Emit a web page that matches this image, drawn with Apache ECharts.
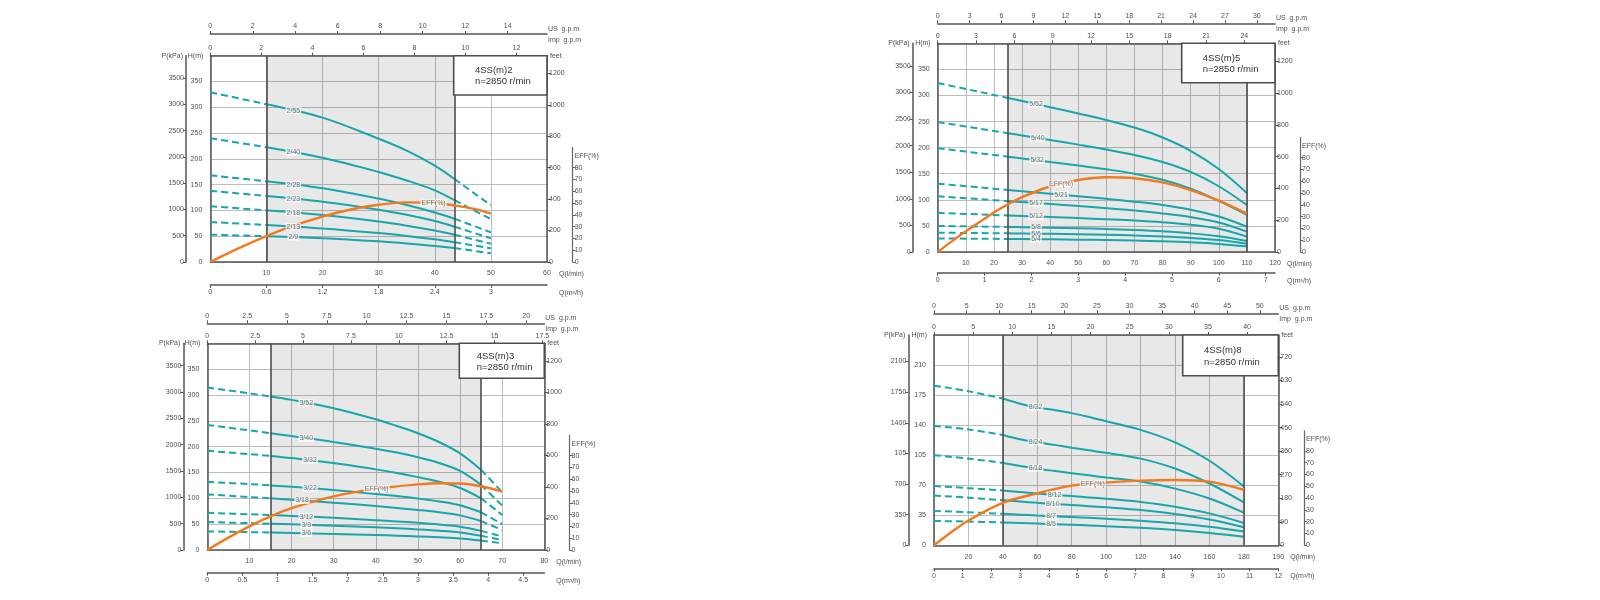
<!DOCTYPE html>
<html><head><meta charset="utf-8">
<script src="https://cdn.jsdelivr.net/npm/echarts@6/dist/echarts.min.js"></script>
<style>html,body{margin:0;padding:0;background:#fff}#c{width:1600px;height:600px}</style>
</head><body><div id="c"></div>
<script>
// ---------------- DATA ----------------
// Panel 1 : 4SS(m)2   (Q in l/min, H in m, EFF in %)
const p1Title = ['4SS(m)2', 'n=2850 r/min'];
const p1Names = ['2/55', '2/40', '2/28', '2/23', '2/18', '2/13', '2/9'];
const p1Q = [0, 10, 20, 30, 35, 40, 43.5, 50];
const p1_2_55 = [329, 306, 280, 239, 216, 187, 161, 110];
const p1_2_40 = [240, 222.5, 202, 174.5, 158, 139, 120, 83];
const p1_2_28 = [168, 156.5, 143, 123, 110.5, 96, 84, 57.5];
const p1_2_23 = [138, 128, 117, 101.5, 91.5, 79.5, 68.5, 46];
const p1_2_18 = [108, 100.3, 91, 78.5, 70.5, 61, 53, 35.5];
const p1_2_13 = [77.5, 71.8, 65, 56, 50.5, 44, 38.5, 26.5];
const p1_2_9 = [53, 50, 46, 40, 36, 31, 27, 17];
const p1EffQ = [0, 5, 10, 15, 20, 25, 30, 35, 40, 43.5, 47, 50];
const p1Eff = [0, 11.5, 22, 31, 38.5, 44.5, 48.5, 50.5, 50, 48, 45, 41];

// Panel 2 : 4SS(m)5
const p2Title = ['4SS(m)5', 'n=2850 r/min'];
const p2Names = ['5/52', '5/40', '5/32', '5/21', '5/17', '5/12', '5/8', '5/6', '5/4'];
const p2Q = [0, 10, 20, 25, 30, 40, 50, 60, 70, 80, 90, 100, 110];
const p2_5_52 = [324, 312.5, 301, 295.2, 289.4, 277.5, 265.5, 253, 238.5, 219.5, 194, 159, 113];
const p2_5_40 = [249, 240.5, 232, 227.7, 223.4, 214.7, 205.8, 196.5, 186, 172.5, 153.5, 126, 90];
const p2_5_32 = [199, 192.5, 186, 182.7, 179.4, 172.7, 165.8, 158.5, 150, 138.5, 121.5, 98, 71];
const p2_5_21 = [131, 126.2, 121.4, 119, 116.6, 111.8, 107, 102, 96.5, 90, 81, 68, 48.5];
const p2_5_17 = [107, 103.2, 99.4, 97.5, 95.6, 91.8, 88, 84, 79.5, 74, 67, 56.5, 39];
const p2_5_12 = [75, 73, 71, 70, 69, 67, 65, 62.8, 60.3, 57, 52.3, 44.5, 29.5];
const p2_5_8 = [50, 49.2, 48.4, 48, 47.6, 46.7, 45.6, 44.2, 42.3, 39.6, 35.7, 30, 21];
const p2_5_6 = [37, 36.5, 36, 35.75, 35.5, 34.9, 34.2, 33.2, 31.8, 29.8, 27, 23, 16];
const p2_5_4 = [26, 25.6, 25.2, 25, 24.8, 24.3, 23.7, 22.9, 21.9, 20.5, 18.5, 15.5, 10.8];
const p2EffQ = [0, 5, 10, 20, 25, 30, 40, 50, 60, 70, 80, 90, 100, 110];
const p2Eff = [0, 9, 17.5, 33.5, 40.5, 46.5, 55.5, 61, 63.3, 62.5, 59, 52.5, 43.5, 32.5];

// Panel 3 : 4SS(m)3
const p3Title = ['4SS(m)3', 'n=2850 r/min'];
const p3Names = ['3/52', '3/40', '3/32', '3/22', '3/18', '3/12', '3/9', '3/6'];
const p3Q = [0, 10, 15, 20, 30, 40, 45, 50, 55, 60, 65, 70];
const p3_3_52 = [314.5, 303, 297, 290.5, 274.5, 253, 240, 226, 209, 187, 155, 112];
const p3_3_40 = [242, 231.5, 226, 220.5, 209, 196, 188.5, 179.5, 168.5, 153, 126, 86];
const p3_3_32 = [192, 185.5, 182, 178, 168.5, 156, 149, 141, 132, 120, 100, 68];
const p3_3_22 = [132, 127.5, 125, 122.3, 116, 108.5, 104.3, 99.6, 94, 86.5, 73, 50];
const p3_3_18 = [107.5, 102.5, 100, 97.3, 91.5, 85, 81.5, 77.5, 73, 67, 56, 39];
const p3_3_12 = [72, 69.2, 67.7, 66, 62.2, 57.8, 55.3, 52.5, 49.2, 45, 37, 26];
const p3_3_9 = [54, 52, 50.9, 49.7, 47, 43.8, 42, 39.9, 37.4, 34, 27.5, 19.3];
const p3_3_6 = [36, 34.6, 33.8, 33, 31.2, 29, 27.7, 26.3, 24.6, 22.4, 18.3, 13];
const p3EffQ = [0, 5, 10, 15, 20, 30, 40, 50, 55, 60, 65, 70];
const p3Eff = [0, 10.5, 20, 28.5, 35.5, 45.5, 51.8, 55.6, 56.6, 56.4, 54, 49.5];

// Panel 4 : 4SS(m)8
const p4Title = ['4SS(m)8', 'n=2850 r/min'];
const p4Names = ['8/32', '8/24', '8/18', '8/12', '8/10', '8/7', '8/5'];
const p4Q = [0, 20, 40, 50, 60, 70, 80, 90, 100, 120, 140, 160, 180];
const p4_8_32 = [186, 179.5, 171, 165, 160.5, 157.5, 154, 149.5, 144.5, 134.5, 120, 98.5, 68.5];
const p4_8_24 = [139, 135, 128.5, 123.5, 120, 117, 113.7, 110.7, 107.7, 101, 89.5, 72, 50];
const p4_8_18 = [105, 101, 96, 92.5, 89.3, 86.6, 84, 81.5, 79, 74.2, 66, 54.5, 38];
const p4_8_12 = [69, 66.6, 63.8, 62, 60.3, 58.8, 57.3, 55.8, 54.2, 50.5, 45, 37.2, 26];
const p4_8_10 = [58, 55.5, 52.5, 51, 49.5, 48.2, 46.9, 45.6, 44.2, 41, 36.5, 30, 21];
const p4_8_7 = [40, 38.5, 36.7, 35.7, 34.7, 33.8, 32.9, 32, 31, 28.7, 25.6, 21.5, 16];
const p4_8_5 = [28.4, 27.6, 26.6, 26, 25.3, 24.6, 23.9, 23.1, 22.3, 20.4, 17.8, 14.4, 10];
const p4EffQ = [0, 10, 20, 40, 60, 80, 100, 120, 140, 160, 180];
const p4Eff = [0, 11, 21, 36, 44, 50.6, 53.1, 54.8, 55.4, 54, 47];

// ---------------- LAYOUT / STYLE ----------------
const TEAL = '#17a6a9', ORANGE = '#f27a1e', AX = '#555', GRIDC = '#bdbdbd', TXT = '#505050';
const FF = '"Liberation Sans", Arial, Helvetica, sans-serif';
const FS = 7;
const EFF_MAX = 97, EFF_PX = 1.18;

const panels = [
  {L:210.3,R:547,T:55.7,B:262,Qmax:60,Qstep:10,qLabels:[10,20,30,40,50,60],Hmax:400,Hstep:50,sA:10,sB:43.5,
   m3Step:0.6,m3Max:3.6,impStep:2,impMax:12,usStep:2,usMax:14,pStep:500,pMax:3500,ftStep:200,ftMax:1200,
   usOff:21.7,pOff:24.3,m3Off:23,effOff:25.7,box:{w:93.3,h:39.3,tx:21.3,t1:14.3,t2:25.3},
   title:p1Title,names:p1Names,Q:p1Q,curves:[p1_2_55,p1_2_40,p1_2_28,p1_2_23,p1_2_18,p1_2_13,p1_2_9],
   labelQ:[14.8,14.8,14.8,14.8,14.8,14.8,14.8],effQ:p1EffQ,eff:p1Eff,effLabelQ:39.8},
  {L:937.7,R:1275,T:43.3,B:252,Qmax:120,Qstep:10,qLabels:[10,20,30,40,50,60,70,80,90,100,110,120],Hmax:400,Hstep:50,sA:25,sB:110,
   m3Step:1,m3Max:7,impStep:3,impMax:24,usStep:3,usMax:30,pStep:500,pMax:3500,ftStep:200,ftMax:1200,
   usOff:20,pOff:25,m3Off:20.7,effOff:25,box:{w:93.3,h:39.4,tx:21,t1:15,t2:25.7},
   title:p2Title,names:p2Names,Q:p2Q,curves:[p2_5_52,p2_5_40,p2_5_32,p2_5_21,p2_5_17,p2_5_12,p2_5_8,p2_5_6,p2_5_4],
   labelQ:[35,35.6,35.4,43.9,35,35,35,35,35],effQ:p2EffQ,eff:p2Eff,effLabelQ:43.9},
  {L:207.3,R:544.3,T:343.3,B:550,Qmax:80,Qstep:10,qLabels:[10,20,30,40,50,60,70,80],Hmax:400,Hstep:50,sA:15,sB:65,
   m3Step:0.5,m3Max:4.5,impStep:2.5,impMax:17.5,usStep:2.5,usMax:20,pStep:500,pMax:3500,ftStep:200,ftMax:1200,
   usOff:20,pOff:24,m3Off:22.7,effOff:25.2,box:{w:85,h:35,tx:17.4,t1:13.4,t2:24.4},
   title:p3Title,names:p3Names,Q:p3Q,curves:[p3_3_52,p3_3_40,p3_3_32,p3_3_22,p3_3_18,p3_3_12,p3_3_9,p3_3_6],
   labelQ:[23.5,23.5,24.4,24.4,22.5,23.5,23.5,23.5],effQ:p3EffQ,eff:p3Eff,effLabelQ:40.2},
  {L:934,R:1278.3,T:335,B:545.3,Qmax:200,Qstep:20,qLabels:[20,40,60,80,100,120,140,160,180,200],qFmt:v=>v===200?'190':String(v),
   Hmax:245,Hstep:35,sA:40,sB:180,
   m3Step:1,m3Max:12,impStep:5,impMax:40,usStep:5,usMax:50,pStep:350,pMax:2100,pFmt:v=>v===1050?'105':String(v),ftStep:90,ftMax:720,
   usOff:21.7,pOff:25.7,m3Off:23,effOff:25.7,box:{w:95.6,h:40.7,tx:21.3,t1:15.7,t2:27.3},
   title:p4Title,names:p4Names,Q:p4Q,curves:[p4_8_32,p4_8_24,p4_8_18,p4_8_12,p4_8_10,p4_8_7,p4_8_5],
   labelQ:[59,59,59,70,69,68,68],effQ:p4EffQ,eff:p4Eff,effLabelQ:92.2}
];

function steps(max, s) { const r = []; for (let i = 0; i * s <= max + 1e-9; i++) r.push(+(i * s).toFixed(4)); return r; }
function interp(Qs, Hs, q) {
  for (let i = 0; i < Qs.length - 1; i++) {
    if (q >= Qs[i] && q <= Qs[i + 1]) { const t = (q - Qs[i]) / (Qs[i + 1] - Qs[i]); return Hs[i] + t * (Hs[i + 1] - Hs[i]); }
  }
  return Hs[Hs.length - 1];
}
const lbl = (extra) => Object.assign({fontSize: FS, color: TXT, fontFamily: FF}, extra || {});
const fmtNum = v => String(+(+v).toFixed(2));
const plain = v => String(v);

const option = {animation: false, backgroundColor: '#fff', grid: [], xAxis: [], yAxis: [], series: [], graphic: []};

function addPanel(P) {
  const g = option.grid.length;
  const W = P.R - P.L, Hh = P.B - P.T;
  option.grid.push({left: P.L, top: P.T, width: W, height: Hh, show: false, containLabel: false, outerBoundsMode: 'none'});
  const effH = EFF_MAX * EFF_PX;
  option.grid.push({left: P.L, top: P.B - effH, width: W, height: effH, show: false, containLabel: false, outerBoundsMode: 'none'});
  const line = {show: true, onZero: false, lineStyle: {color: AX, width: 1.5}};

  const xi = option.xAxis.length;
  option.xAxis.push({gridIndex: g, type: 'value', position: 'bottom', min: 0, max: P.Qmax, interval: P.Qstep,
    axisLine: line, axisTick: {show: false},
    axisLabel: lbl({margin: 8, customValues: P.qLabels, formatter: P.qFmt || plain}),
    splitLine: {show: true, lineStyle: {color: GRIDC, width: 1}}});
  const m3 = steps(P.m3Max, P.m3Step);
  option.xAxis.push({gridIndex: g, type: 'value', position: 'bottom', offset: P.m3Off, min: 0, max: P.Qmax * 0.06,
    axisLine: line, axisTick: {show: true, length: 3, customValues: m3, lineStyle: {color: AX}},
    axisLabel: lbl({margin: 4, customValues: m3, formatter: fmtNum}), splitLine: {show: false}});
  const imp = steps(P.impMax, P.impStep);
  option.xAxis.push({gridIndex: g, type: 'value', position: 'top', min: 0, max: P.Qmax / 4.546,
    axisLine: line, axisTick: {show: true, length: 3, customValues: imp, lineStyle: {color: AX}},
    axisLabel: lbl({margin: 4, customValues: imp, formatter: fmtNum}), splitLine: {show: false}});
  const us = steps(P.usMax, P.usStep);
  option.xAxis.push({gridIndex: g, type: 'value', position: 'top', offset: P.usOff, min: 0, max: P.Qmax / 3.785,
    axisLine: line, axisTick: {show: true, length: 3, customValues: us, lineStyle: {color: AX}},
    axisLabel: lbl({margin: 4, customValues: us, formatter: fmtNum}), splitLine: {show: false}});
  option.xAxis.push({gridIndex: g + 1, type: 'value', min: 0, max: P.Qmax, show: false});

  const yi = option.yAxis.length;
  const hl = steps(P.Hmax - P.Hstep, P.Hstep);
  option.yAxis.push({gridIndex: g, type: 'value', position: 'left', min: 0, max: P.Hmax, interval: P.Hstep,
    axisLine: line, axisTick: {show: false},
    axisLabel: lbl({margin: 8, customValues: hl, formatter: plain}), splitLine: {show: true, lineStyle: {color: GRIDC, width: 1}}});
  const pv = steps(P.pMax, P.pStep);
  option.yAxis.push({gridIndex: g, type: 'value', position: 'left', offset: P.pOff, min: 0, max: P.Hmax * 9.81,
    axisLine: line, axisTick: {show: true, length: 3, customValues: pv, lineStyle: {color: AX}},
    axisLabel: lbl({margin: 2, customValues: pv, formatter: P.pFmt || plain}), splitLine: {show: false}});
  const fv = steps(P.ftMax, P.ftStep);
  option.yAxis.push({gridIndex: g, type: 'value', position: 'right', min: 0, max: P.Hmax / 0.3048,
    axisLine: line, axisTick: {show: true, length: 4, customValues: fv, lineStyle: {color: AX}},
    axisLabel: lbl({margin: 2, customValues: fv, formatter: plain}), splitLine: {show: false}});
  const ev = steps(80, 10);
  option.yAxis.push({gridIndex: g + 1, type: 'value', position: 'right', offset: P.effOff, min: 0, max: EFF_MAX,
    axisLine: {show: true, onZero: false, lineStyle: {color: '#666', width: 1.2}},
    axisTick: {show: true, length: 3, customValues: ev, lineStyle: {color: '#666'}},
    axisLabel: lbl({margin: 2, customValues: ev.concat([90]), formatter: v => v === 90 ? 'EFF(%)' : String(v)}),
    splitLine: {show: false}});

  option.series.push({type: 'line', xAxisIndex: xi, yAxisIndex: yi, data: [], silent: true, symbol: 'none',
    markArea: {silent: true, itemStyle: {color: 'rgba(45,35,45,0.105)'}, label: {show: false},
      data: [[{xAxis: P.sA}, {xAxis: P.sB}]]}});
  option.series.push({type: 'line', xAxisIndex: xi, yAxisIndex: yi, data: [], silent: true, symbol: 'none', z: 3,
    markLine: {silent: true, symbol: ['none', 'none'], label: {show: false},
      lineStyle: {color: '#4d4d4d', width: 1.6, type: 'solid'}, data: [{xAxis: P.sA}, {xAxis: P.sB}]}});

  const labelData = [];
  P.curves.forEach((hs, k) => {
    const pts = P.Q.map((q, j) => [q, hs[j]]);
    const segs = [
      {d: pts.filter(p => p[0] <= P.sA), dash: true},
      {d: pts.filter(p => p[0] >= P.sA && p[0] <= P.sB), dash: false},
      {d: pts.filter(p => p[0] >= P.sB), dash: true}
    ];
    segs.forEach(s => {
      if (s.d.length < 2) return;
      option.series.push({type: 'line', xAxisIndex: xi, yAxisIndex: yi, data: s.d, symbol: 'none', silent: true,
        smooth: 0.35, z: 4,
        lineStyle: {color: TEAL, width: 2, type: s.dash ? [7, 4] : 'solid'}});
    });
    labelData.push({value: [P.labelQ[k], interp(P.Q, hs, P.labelQ[k])], name: P.names[k]});
  });
  const labelStyle = {show: true, position: 'inside', formatter: p => p.name, fontSize: FS, color: TXT, fontFamily: FF,
    backgroundColor: 'rgba(255,255,255,0.92)', padding: [0, 1]};
  option.series.push({type: 'scatter', xAxisIndex: xi, yAxisIndex: yi, data: labelData, symbolSize: 2, silent: true, z: 6,
    itemStyle: {color: 'rgba(0,0,0,0)'}, label: labelStyle});

  option.series.push({type: 'line', xAxisIndex: xi + 4, yAxisIndex: yi + 3, data: P.effQ.map((q, j) => [q, P.eff[j]]),
    symbol: 'none', silent: true, smooth: 0.35, z: 5, lineStyle: {color: ORANGE, width: 2.4}});
  option.series.push({type: 'scatter', xAxisIndex: xi + 4, yAxisIndex: yi + 3, silent: true, z: 7,
    data: [{value: [P.effLabelQ, interp(P.effQ, P.eff, P.effLabelQ)], name: 'EFF(%)'}], symbolSize: 2,
    itemStyle: {color: 'rgba(0,0,0,0)'}, label: labelStyle});

  const bx = P.R - P.box.w;
  const tt = (x, y, text, align, size) => ({type: 'text', x: x, y: y, z: 120, silent: true,
    style: {text: text, fontSize: size || FS, fontFamily: FF, fill: size ? '#333' : TXT, align: align || 'left', verticalAlign: 'middle'}});
  option.graphic.push({type: 'rect', z: 110, silent: true, shape: {x: bx, y: P.T, width: P.box.w, height: P.box.h},
    style: {fill: '#fff', stroke: '#4d4d4d', lineWidth: 1.6}});
  option.graphic.push(tt(bx + P.box.tx, P.T + P.box.t1, P.title[0], 'left', 9.5));
  option.graphic.push(tt(bx + P.box.tx, P.T + P.box.t2, P.title[1], 'left', 9.5));
  option.graphic.push(tt(P.L - P.pOff - 3, P.T, 'P(kPa)', 'right'));
  option.graphic.push(tt(P.L - 7, P.T, 'H(m)', 'right'));
  option.graphic.push(tt(P.R + 3, P.T, 'feet', 'left'));
  option.graphic.push(tt(P.R + 1, P.T - P.usOff - 5, 'US  g.p.m', 'left'));
  option.graphic.push(tt(P.R + 1, P.T - P.usOff + 6, 'Imp  g.p.m', 'left'));
  option.graphic.push(tt(P.R + 12, P.B + 12, 'Q(l/min)', 'left'));
  option.graphic.push(tt(P.R + 12, P.B + P.m3Off + 8, 'Q(m³/h)', 'left'));
}

panels.forEach(addPanel);
const chart = echarts.init(document.getElementById('c'), null, {renderer: 'canvas'});
chart.setOption(option);
</script></body></html>
